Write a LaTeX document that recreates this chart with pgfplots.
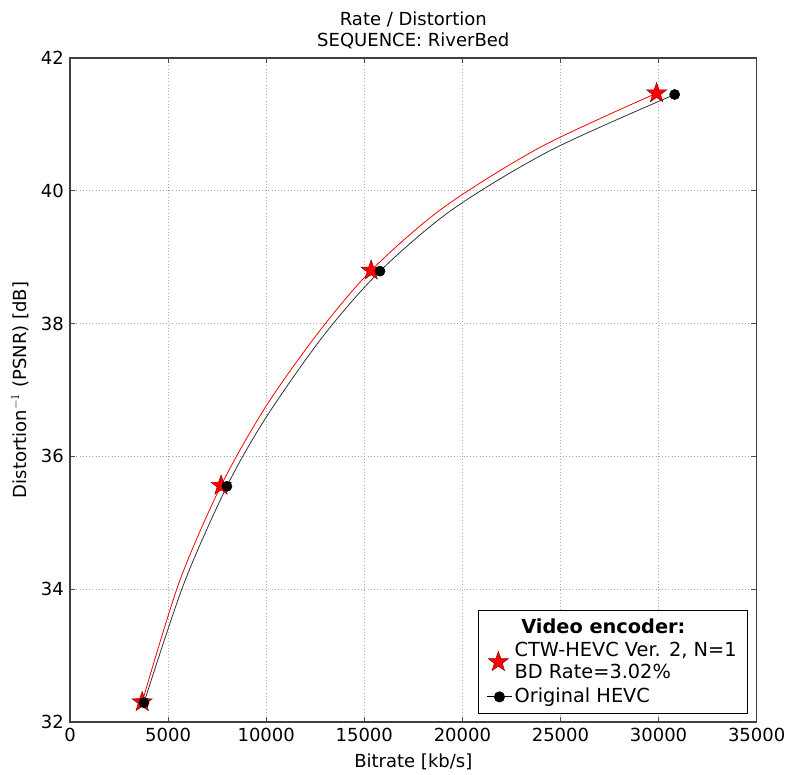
\documentclass[border=0pt]{standalone}
\usepackage{fontspec}
\setmainfont{DejaVu Sans}
\usepackage{pgfplots}
\pgfplotsset{compat=1.18}

% filled five-pointed star
\pgfdeclareplotmark{fstar}{%
  \pgfpathmoveto{\pgfqpointpolar{90}{\pgfplotmarksize}}%
  \pgfpathlineto{\pgfqpointpolar{126}{0.4\pgfplotmarksize}}%
  \pgfpathlineto{\pgfqpointpolar{162}{\pgfplotmarksize}}%
  \pgfpathlineto{\pgfqpointpolar{198}{0.4\pgfplotmarksize}}%
  \pgfpathlineto{\pgfqpointpolar{234}{\pgfplotmarksize}}%
  \pgfpathlineto{\pgfqpointpolar{270}{0.4\pgfplotmarksize}}%
  \pgfpathlineto{\pgfqpointpolar{306}{\pgfplotmarksize}}%
  \pgfpathlineto{\pgfqpointpolar{342}{0.4\pgfplotmarksize}}%
  \pgfpathlineto{\pgfqpointpolar{18}{\pgfplotmarksize}}%
  \pgfpathlineto{\pgfqpointpolar{54}{0.4\pgfplotmarksize}}%
  \pgfpathclose
  \pgfusepathqfillstroke}

\begin{document}
\fontsize{13.5}{16}\selectfont
\begin{tikzpicture}
\begin{axis}[
  scale only axis,
  width=515pt, height=498pt,
  xmin=0, xmax=35000, ymin=32, ymax=42,
  xtick={0,5000,...,35000}, ytick={32,34,...,42},
  scaled x ticks=false,
  xticklabel style={/pgf/number format/1000 sep={}},
  /pgf/number format/assume math mode=true,
  tick align=inside, major tick length=4pt,
  tick style={black!70, line width=0.6pt},
  grid=major, major grid style={gray!70, dotted, line width=0.6pt},
  axis line style={black!75, line width=0.8pt},
  title={Rate / Distortion\\SEQUENCE: RiverBed},
  title style={align=center, yshift=-4pt},
  xlabel={Bitrate [kb/s]},
  ylabel={Distortion$^{-1}$ (PSNR) [dB]},
  legend style={at={(0.987,0.012)}, anchor=south east, draw=black, line width=0.7pt,
    font=\fontsize{14.5}{16.5}\selectfont,
    cells={anchor=west, align=left}, inner xsep=6pt, inner ysep=4pt, row sep=1pt},
  legend cell align=left,
]
% fitted curves, read off the picture
\addplot[red, line width=0.6pt, smooth, forget plot] coordinates {
(3680,32.30) (5560,34.10) (7700,35.56) (10000,36.76) (12700,37.88)
(15350,38.80) (19000,39.74) (24000,40.66) (29900,41.47)};
\addlegendimage{empty legend}
\addlegendentry{\hspace{5pt}\textbf{Video encoder:}}
\addplot[black!80, line width=0.6pt, smooth, forget plot] coordinates {
(3770,32.29) (5800,34.08) (8000,35.55) (10000,36.59) (12900,37.81)
(15800,38.79) (19500,39.72) (24500,40.61) (30820,41.45)};
% measured points
\addplot[only marks, mark=fstar, mark size=8pt, draw=red!50!black, fill=red, line width=0.3pt]
coordinates {(3680,32.30) (7700,35.56) (15350,38.80) (29900,41.47)};
\addlegendentry{CTW-HEVC Ver. 2, N=1\\BD Rate=3.02\%}
\addplot[only marks, black, mark=*, mark size=3.8pt,
  legend image code/.code={\draw[black, line width=0.6pt] (0cm,0cm) -- (0.65cm,0cm);
    \fill[black] (0.33cm,0cm) circle (3.8pt);}]
coordinates {(3770,32.29) (8000,35.55) (15800,38.79) (30820,41.45)};
\addlegendentry{Original HEVC}
\end{axis}
\pgfresetboundingbox
\path[use as bounding box] (-52.5pt,-39.75pt) rectangle (542.25pt,541.5pt);
\end{tikzpicture}
\end{document}
